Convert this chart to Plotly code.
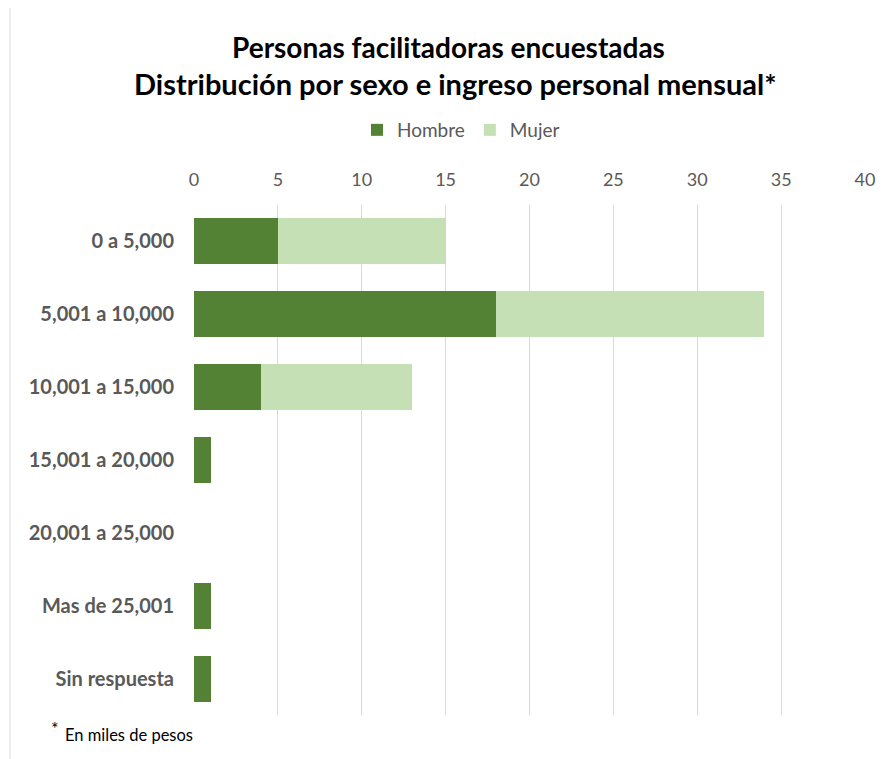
import plotly.graph_objects as go

categorias = ["0 a 5,000", "5,001 a 10,000", "10,001 a 15,000", "15,001 a 20,000",
              "20,001 a 25,000", "Mas de 25,001", "Sin respuesta"]
hombre = [5, 18, 4, 1, 0, 1, 1]
mujer = [10, 16, 9, 0, 0, 0, 0]
ticks = [0, 5, 10, 15, 20, 25, 30, 35, 40]

W, H = 889, 759
O = 8  # page body offset
L, R, T, B = 194 - O, W - (865 - O), 205 - O, H - (715 - O)
pw, ph = W - L - R, H - T - B


def px(x):
    return (x - O - L) / pw


def py(y):
    return (H - B - (y - O)) / ph


FONT = "Lato, 'Open Sans', sans-serif"
GREY = "#595959"

fig = go.Figure()
fig.add_trace(go.Bar(y=categorias, x=hombre, name="Hombre", orientation="h",
                     marker=dict(color="#548235", line=dict(width=0))))
fig.add_trace(go.Bar(y=categorias, x=mujer, name="Mujer", orientation="h",
                     marker=dict(color="#C5E0B4", line=dict(width=0))))

fig.update_layout(
    width=W, height=H,
    barmode="stack", bargap=0.37,
    margin=dict(l=L, r=R, t=T, b=B),
    paper_bgcolor="white", plot_bgcolor="white",
    font=dict(family=FONT, color=GREY),
    showlegend=True,
    legend=dict(orientation="h", x=px(461), xanchor="center", y=py(130), yanchor="middle",
                font=dict(size=19, color=GREY), traceorder="normal", itemwidth=30),
    xaxis=dict(side="top", range=[0, 40], tickvals=ticks, showgrid=True,
               gridcolor="#D9D9D9", gridwidth=1, zeroline=False, showline=False,
               tickfont=dict(size=18, color=GREY), ticks="", ticklabelstandoff=14),
    yaxis=dict(categoryorder="array", categoryarray=categorias[::-1],
               showgrid=False, zeroline=False, showline=False, ticks="",
               tickfont=dict(size=20, color=GREY, weight="bold"), ticklabelstandoff=19),
    annotations=[
        dict(text="Personas facilitadoras encuestadas", x=px(448), y=py(47),
             xref="paper", yref="paper", showarrow=False, xanchor="center", yanchor="middle",
             font=dict(size=28, color="#000000", family=FONT, weight="bold")),
        dict(text="Distribución por sexo e ingreso personal mensual*", x=px(455), y=py(84),
             xref="paper", yref="paper", showarrow=False, xanchor="center", yanchor="middle",
             font=dict(size=29, color="#000000", family=FONT, weight="bold")),
        dict(text="*", x=px(49), y=py(728),
             xref="paper", yref="paper", showarrow=False, xanchor="left", yanchor="middle",
             font=dict(size=18, color="#000000", family=FONT)),
        dict(text="En miles de pesos", x=px(63), y=py(735),
             xref="paper", yref="paper", showarrow=False, xanchor="left", yanchor="middle",
             font=dict(size=16.5, color="#000000", family=FONT)),
    ],
    shapes=[
        dict(type="rect", xref="paper", yref="paper", x0=px(10), x1=px(900), y0=py(770), y1=py(7),
             line=dict(color="#D9D9D9", width=1), fillcolor="rgba(0,0,0,0)", layer="below"),
    ],
)

fig.write_html("out.html")
